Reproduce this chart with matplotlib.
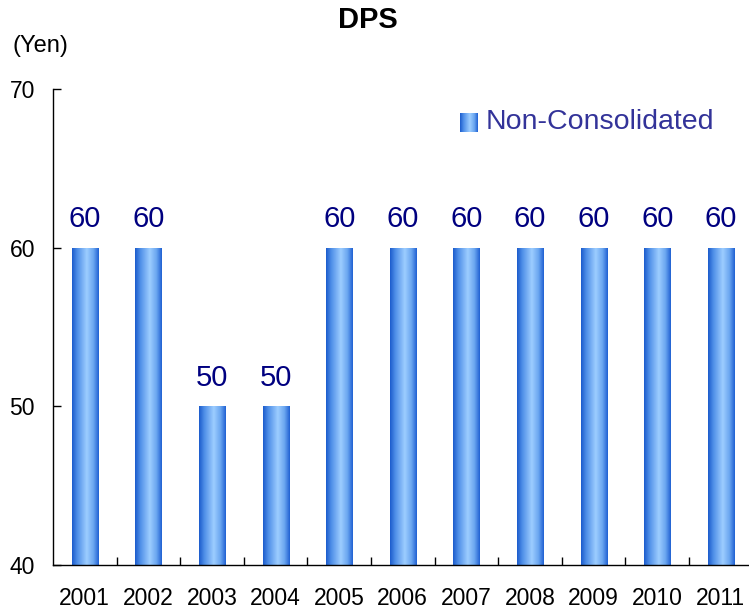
import numpy as np
import matplotlib
matplotlib.use("Agg")
import matplotlib.pyplot as plt
from matplotlib.colors import LinearSegmentedColormap
from matplotlib.patches import Rectangle

plt.rcParams["font.family"] = ["Liberation Sans", "DejaVu Sans"]

# Données
annees = ["2001", "2002", "2003", "2004", "2005", "2006",
          "2007", "2008", "2009", "2010", "2011"]
dps = [60, 60, 50, 50, 60, 60, 60, 60, 60, 60, 60]
serie = "Non-Consolidated"

# Dégradé horizontal des barres
degrade = LinearSegmentedColormap.from_list("barre", [
    (0.0, "#1b5bcc"), (0.2, "#4f8fe8"), (0.55, "#9dcdff"),
    (0.8, "#6aa6f0"), (1.0, "#1f60d2")])
grad = np.linspace(0, 1, 256).reshape(1, -1)

fig = plt.figure(figsize=(7.49, 6.11), dpi=100)
ax = fig.add_axes([53 / 749, 46 / 611, 696 / 749, 476 / 611])

largeur = 0.41
x = np.arange(len(annees))
bars = ax.bar(x, [v - 40 for v in dps], bottom=40, width=largeur,
              color="none", edgecolor="none", label=serie)

for b in bars:
    x0, y0 = b.get_x(), b.get_y()
    w, h = b.get_width(), b.get_height()
    im = ax.imshow(grad, cmap=degrade, aspect="auto",
                   extent=(x0, x0 + w, y0, y0 + h), zorder=2)
    im.set_clip_path(Rectangle((x0, y0), w, h, transform=ax.transData))

for xi, v in zip(x, dps):
    ax.text(xi, v + 1.3, str(v), ha="center", va="baseline",
            fontsize=21, color="#000080")

ax.set_xlim(-0.5, -0.5 + 696 / 63.6)
ax.set_ylim(40, 70)
ax.set_yticks([40, 50, 60, 70])
ax.set_xticks(x)
ax.set_xticklabels(annees)
ax.set_xticks(x[:-1] + 0.5, minor=True)
ax.tick_params(axis="x", which="major", length=0, pad=16, labelsize=16.5)
ax.tick_params(axis="x", which="minor", direction="in", length=6, width=1)
ax.tick_params(axis="y", direction="in", length=6, width=1, pad=13,
               labelsize=16.5)
for s in ["top", "right"]:
    ax.spines[s].set_visible(False)
for s in ["left", "bottom"]:
    ax.spines[s].set_linewidth(1)

# Légende (pastille en dégradé + texte)
pastille = fig.add_axes([460 / 749, 1 - 132 / 611, 17 / 749, 19 / 611])
pastille.imshow(grad, cmap=degrade, aspect="auto")
pastille.axis("off")
fig.text(486 / 749, 1 - 122 / 611, serie, ha="left", va="center",
         fontsize=20.5, color="#333399")

fig.text(368 / 749, 1 - 20 / 611, "DPS", ha="center", va="center",
         fontsize=21, fontweight="bold")
fig.text(12 / 749, 1 - 46 / 611, "(Yen)", ha="left", va="center",
         fontsize=17)

fig.savefig("out.png", dpi=100)
